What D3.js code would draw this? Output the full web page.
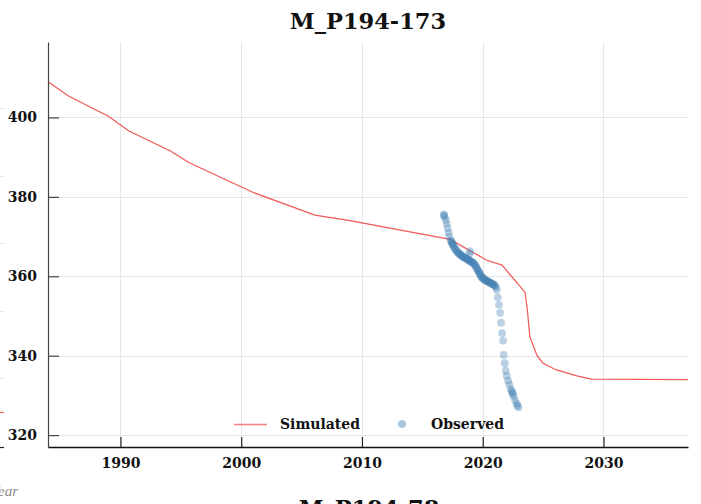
<!DOCTYPE html>
<html>
<head>
<meta charset="utf-8">
<script src="https://cdn.jsdelivr.net/npm/d3@7"></script>
<style>
  html, body { margin: 0; padding: 0; background: #fff; }
  svg { display: block; }
</style>
</head>
<body>
<svg id="chart" width="701" height="504"></svg>
<script>
// ---------------- data ----------------
const chartTitle = "M_P194-173";
const nextChartTitle = "M_P194-78";
const xTickValues = [1990, 2000, 2010, 2020, 2030];
const yTickValues = [320, 340, 360, 380, 400];
const xDomain = [1984, 2037];
const yDomain = [317, 419];

const simYear = [1984, 1985.7, 1989.0, 1990.7, 1994.1, 1995.7, 2001.0, 2006.1, 2009.0,
  2017.3, 2020.3, 2021.6, 2023.5, 2023.7, 2023.9, 2024.5, 2025.0, 2026.1, 2027.8, 2029.0, 2037];
const simValue = [409.0, 405.4, 400.3, 396.6, 391.6, 388.6, 381.1, 375.4, 374.0,
  369.3, 364.1, 362.8, 356.0, 351.5, 344.8, 340.0, 338.1, 336.4, 334.9, 334.1, 334.0];

const obsYear = [
  2016.78, 2016.80, 2016.83, 2016.96, 2017.02, 2017.10, 2017.18, 2017.23, 2017.35, 2017.48,
  2017.40, 2017.45, 2017.50, 2017.55, 2017.60, 2017.66, 2017.72, 2017.78, 2017.84, 2017.90,
  2017.96, 2018.02, 2018.08, 2018.14, 2018.20, 2018.26, 2018.32, 2018.38, 2018.44, 2018.50,
  2018.56, 2018.62, 2018.68, 2018.74, 2018.80, 2018.86, 2018.92, 2018.98, 2019.04, 2019.10,
  2019.16, 2019.22, 2019.28, 2019.34, 2019.40, 2019.45, 2019.50, 2019.55, 2019.60, 2019.65,
  2019.70, 2019.75, 2019.80, 2019.85, 2019.90, 2019.95, 2020.00, 2020.06, 2020.12, 2020.18,
  2020.24, 2020.30, 2020.36, 2020.42, 2020.48, 2020.54, 2020.60, 2020.66, 2020.72, 2020.78,
  2020.84, 2020.90, 2020.96, 2021.02, 2021.08,
  2018.95, 2018.92,
  2021.16, 2021.25, 2021.35, 2021.44, 2021.52, 2021.60, 2021.69, 2021.74, 2021.83, 2021.91,
  2021.99, 2022.10, 2022.21, 2022.33, 2022.40, 2022.46, 2022.50, 2022.58, 2022.68, 2022.82,
  2022.88, 2022.96
];
const obsValue = [
  375.6, 375.3, 375.0, 374.2, 373.2, 372.1, 371.0, 370.0, 369.0, 368.2,
  368.9, 368.5, 368.1, 367.8, 367.5, 367.2, 366.9, 366.6, 366.4, 366.1,
  365.9, 365.8, 365.6, 365.5, 365.3, 365.2, 365.0, 364.9, 364.8, 364.7,
  364.6, 364.5, 364.4, 364.3, 364.2, 364.0, 363.9, 363.8, 363.7, 363.6,
  363.5, 363.3, 363.1, 362.9, 362.7, 362.4, 362.1, 361.8, 361.5, 361.2,
  361.0, 360.7, 360.4, 360.1, 359.9, 359.7, 359.5, 359.4, 359.3, 359.1,
  359.0, 358.9, 358.8, 358.7, 358.6, 358.5, 358.4, 358.3, 358.2, 358.1,
  358.0, 357.9, 357.8, 357.6, 357.3,
  366.3, 365.7,
  356.6, 354.7, 352.8, 350.8, 348.3, 345.7, 343.8, 340.2, 338.1, 336.2,
  334.9, 333.7, 332.7, 331.6, 331.0, 330.7, 330.3, 329.7, 328.7, 327.9,
  327.4, 327.0
];

const legendLabels = ["Simulated", "Observed"];
// fragments of the neighbouring panel visible at the left edge
const neighborGridTicks = [1, 2, 3, 4, 5];
const neighborSimulatedEnd = 0.5;
const neighborAxisLabel = "Year";

// ---------------- drawing ----------------
const svg = d3.select("#chart");
const plot = { left: 48, right: 688, top: 42, bottom: 447 };
const simColor = "#f03c3c";
const obsColor = "#4682b4";
const gridColor = "#e6e6e6";
const serif = "'DejaVu Serif', serif";

const x = d3.scaleLinear().domain(xDomain).range([plot.left, plot.right]);
const y = d3.scaleLinear().domain(yDomain).range([plot.bottom, plot.top]);

// neighbour fragments
const ny = d3.scaleLinear().domain([0, 5]).range([445.5, 108]);
const ng = svg.append("g");
ng.selectAll("line.ngrid").data(neighborGridTicks).join("line")
  .attr("x1", 0).attr("x2", 4)
  .attr("y1", d => Math.round(ny(d)) + 0.5).attr("y2", d => Math.round(ny(d)) + 0.5)
  .attr("stroke", gridColor).attr("stroke-width", 1);
ng.append("line").attr("x1", 0).attr("x2", 4)
  .attr("y1", Math.round(ny(neighborSimulatedEnd)) + 0.5).attr("y2", Math.round(ny(neighborSimulatedEnd)) + 0.5)
  .attr("stroke", simColor).attr("stroke-opacity", 0.8).attr("stroke-width", 1.2);
ng.append("line").attr("x1", 0).attr("x2", 4)
  .attr("y1", plot.bottom + 0.5).attr("y2", plot.bottom + 0.5)
  .attr("stroke", "#222").attr("stroke-width", 1.2);
ng.append("text").attr("x", 18).attr("y", 496)
  .attr("text-anchor", "end")
  .style("font-family", "'Liberation Serif', serif").style("font-style", "italic")
  .style("font-size", "15px").attr("fill", "#8a8a8a")
  .text(neighborAxisLabel);

// gridlines
const grid = svg.append("g");
grid.selectAll("line.vg").data(xTickValues).join("line")
  .attr("x1", d => Math.round(x(d)) + 0.5).attr("x2", d => Math.round(x(d)) + 0.5)
  .attr("y1", plot.top).attr("y2", plot.bottom)
  .attr("stroke", gridColor);
grid.selectAll("line.hg").data(yTickValues).join("line")
  .attr("x1", plot.left).attr("x2", plot.right)
  .attr("y1", d => Math.round(y(d)) + 0.5).attr("y2", d => Math.round(y(d)) + 0.5)
  .attr("stroke", gridColor);

// simulated line
const line = d3.line().x((d, i) => x(simYear[i])).y((d, i) => y(simValue[i]));
svg.append("path").datum(simValue)
  .attr("d", line)
  .attr("fill", "none")
  .attr("stroke", simColor)
  .attr("stroke-opacity", 0.85)
  .attr("stroke-width", 1.25);

// observed points
svg.append("g").selectAll("circle").data(obsValue).join("circle")
  .attr("cx", (d, i) => x(obsYear[i]))
  .attr("cy", d => y(d))
  .attr("r", 3.9)
  .attr("fill", obsColor)
  .attr("fill-opacity", 0.36);

// axes
const tickFont = g => g.selectAll("text")
  .style("font-family", serif)
  .style("font-weight", "bold")
  .style("font-size", "14px")
  .attr("fill", "#111");

const yAxis = svg.append("g")
  .attr("transform", `translate(${plot.left},0)`)
  .call(d3.axisLeft(y).tickValues(yTickValues).tickFormat(d3.format("d"))
    .tickSizeInner(-11).tickSizeOuter(0).tickPadding(11));
yAxis.select(".domain").attr("stroke", "#444").attr("stroke-width", 1.2);
yAxis.selectAll(".tick line").attr("stroke", "#444").attr("stroke-width", 1.2);
yAxis.call(tickFont);

const xAxis = svg.append("g")
  .attr("transform", `translate(0,${plot.bottom})`)
  .call(d3.axisBottom(x).tickValues(xTickValues).tickFormat(d3.format("d"))
    .tickSizeInner(-10).tickSizeOuter(0).tickPadding(11));
xAxis.select(".domain").attr("stroke", "#111").attr("stroke-width", 1.3);
xAxis.selectAll(".tick line").attr("stroke", "#222").attr("stroke-width", 1.2);
xAxis.call(tickFont);

// title
svg.append("text")
  .attr("x", (plot.left + plot.right) / 2).attr("y", 29)
  .attr("text-anchor", "middle")
  .style("font-family", serif).style("font-weight", "bold")
  .style("font-size", "22.5px").attr("fill", "#111")
  .text(chartTitle);

// next panel title (partially visible at bottom)
svg.append("text")
  .attr("x", (plot.left + plot.right) / 2 + 1).attr("y", 516)
  .attr("text-anchor", "middle")
  .style("font-family", serif).style("font-weight", "bold")
  .style("font-size", "22.5px").attr("fill", "#111")
  .text(nextChartTitle);

// legend
const lg = svg.append("g");
const legendY = 424;
lg.append("line").attr("x1", 234).attr("x2", 267)
  .attr("y1", legendY + 0.5).attr("y2", legendY + 0.5)
  .attr("stroke", simColor).attr("stroke-opacity", 0.65).attr("stroke-width", 1.6);
lg.append("text").attr("x", 280).attr("y", legendY + 5)
  .style("font-family", serif).style("font-weight", "bold")
  .style("font-size", "14px").attr("fill", "#111")
  .text(legendLabels[0]);
lg.append("circle").attr("cx", 402).attr("cy", legendY).attr("r", 4)
  .attr("fill", obsColor).attr("fill-opacity", 0.45);
lg.append("text").attr("x", 431).attr("y", legendY + 5)
  .style("font-family", serif).style("font-weight", "bold")
  .style("font-size", "14px").attr("fill", "#111")
  .text(legendLabels[1]);
</script>
</body>
</html>
